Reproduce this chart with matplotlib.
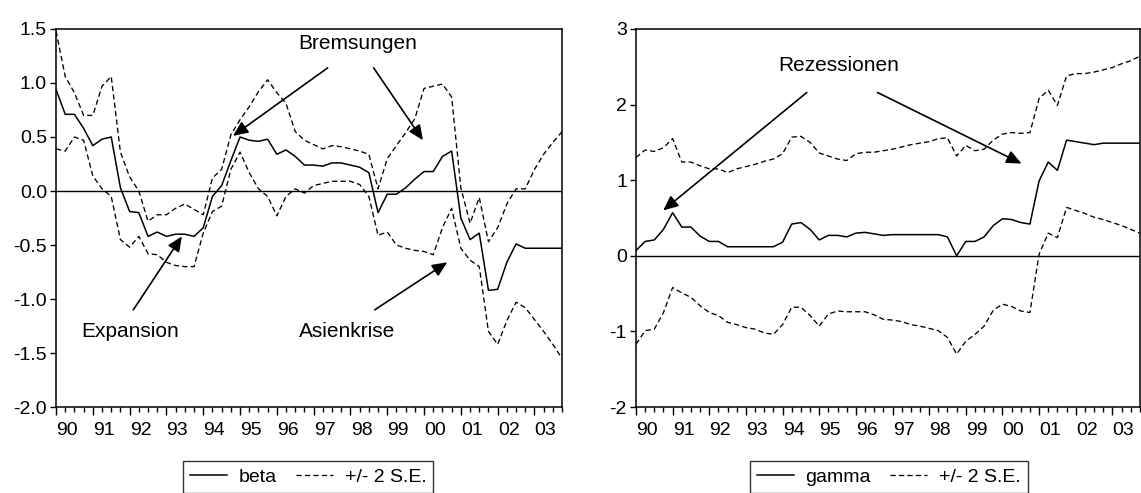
"""Rolling coefficients beta / gamma with +/- 2 S.E. bands (quarterly, 1990-2003).

    python plot.py
"""
from __future__ import annotations

import matplotlib
matplotlib.use("Agg")
import matplotlib.pyplot as plt
import matplotlib.transforms as mtransforms
from matplotlib.ticker import FixedLocator, FormatStrFormatter
import numpy as np

plt.rcParams["font.family"] = ["Liberation Sans", "DejaVu Sans"]
plt.rcParams["axes.unicode_minus"] = False

# ---------- data (quarterly, 1990Q1 .. 2003Q4) ----------------------------

YEARS = list(range(1990, 2004))
YEAR_LABELS = ["90", "91", "92", "93", "94", "95", "96", "97",
               "98", "99", "00", "01", "02", "03"]
N_OBS = 56

beta = [0.94, 0.71, 0.71, 0.58, 0.42, 0.48, 0.50, 0.03, -0.19, -0.20,
        -0.42, -0.38, -0.42, -0.40, -0.40, -0.42, -0.34, -0.05, 0.05, 0.28,
        0.50, 0.47, 0.46, 0.48, 0.34, 0.38, 0.32, 0.24,
        0.24, 0.23, 0.26, 0.26, 0.24, 0.22, 0.17, -0.20, -0.03, -0.03,
        0.03, 0.11, 0.18, 0.18, 0.32, 0.37,
        -0.25, -0.45, -0.39, -0.92, -0.91, -0.66, -0.49, -0.53, -0.53, -0.53,
        -0.53, -0.53]
beta_hi = [1.48, 1.06, 0.91, 0.70, 0.70, 0.97, 1.06, 0.36, 0.13, 0.00,
           -0.28, -0.22, -0.22, -0.16, -0.12, -0.17, -0.22, 0.12, 0.20, 0.52,
           0.66, 0.78, 0.92, 1.03, 0.91, 0.81, 0.55, 0.47,
           0.43, 0.39, 0.42, 0.41, 0.39, 0.37, 0.34, 0.02, 0.30, 0.42,
           0.54, 0.67, 0.95, 0.97, 0.99, 0.87,
           0.03, -0.30, -0.06, -0.47, -0.34, -0.12, 0.02, 0.02, 0.20, 0.34,
           0.45, 0.55]
beta_lo = [0.39, 0.37, 0.50, 0.47, 0.14, 0.02, -0.05, -0.45, -0.52, -0.42,
           -0.58, -0.59, -0.66, -0.69, -0.70, -0.70, -0.39, -0.19, -0.14, 0.20,
           0.36, 0.17, 0.02, -0.05, -0.23, -0.05, 0.02, -0.02,
           0.05, 0.07, 0.09, 0.09, 0.09, 0.06, -0.05, -0.41, -0.38, -0.50,
           -0.53, -0.55, -0.56, -0.59, -0.34, -0.16,
           -0.53, -0.64, -0.70, -1.30, -1.42, -1.20, -1.03, -1.08, -1.19, -1.30,
           -1.42, -1.55]

gamma = [0.07, 0.19, 0.21, 0.35, 0.57, 0.38, 0.38, 0.26, 0.19, 0.19,
         0.12, 0.12, 0.12, 0.12, 0.12, 0.12, 0.18, 0.42, 0.44, 0.35,
         0.21, 0.27, 0.27, 0.25, 0.30, 0.31, 0.29, 0.27,
         0.28, 0.28, 0.28, 0.28, 0.28, 0.28, 0.25, 0.00, 0.19, 0.19,
         0.25, 0.40, 0.49, 0.48, 0.44, 0.42,
         0.99, 1.24, 1.13, 1.53, 1.51, 1.49, 1.47, 1.49, 1.49, 1.49,
         1.49, 1.49]
gamma_hi = [1.30, 1.40, 1.38, 1.43, 1.55, 1.24, 1.24, 1.19, 1.15, 1.15,
            1.10, 1.15, 1.18, 1.21, 1.25, 1.28, 1.35, 1.57, 1.58, 1.50,
            1.36, 1.32, 1.28, 1.26, 1.35, 1.37, 1.37, 1.39,
            1.41, 1.44, 1.47, 1.49, 1.51, 1.55, 1.56, 1.32, 1.46, 1.39,
            1.41, 1.53, 1.61, 1.63, 1.62, 1.63,
            2.08, 2.19, 1.99, 2.38, 2.41, 2.41, 2.43, 2.46, 2.49, 2.54,
            2.58, 2.64]
gamma_lo = [-1.17, -0.99, -0.97, -0.75, -0.42, -0.49, -0.55, -0.66, -0.75, -0.79,
            -0.88, -0.91, -0.95, -0.97, -1.02, -1.04, -0.91, -0.68, -0.68, -0.79,
            -0.93, -0.77, -0.73, -0.74, -0.74, -0.74, -0.78, -0.84,
            -0.85, -0.87, -0.91, -0.93, -0.96, -0.99, -1.08, -1.30, -1.13, -1.04,
            -0.93, -0.72, -0.64, -0.67, -0.73, -0.75,
            0.02, 0.30, 0.24, 0.64, 0.60, 0.56, 0.51, 0.48, 0.44, 0.40,
            0.35, 0.30]

BETA_YTICKS = [-2.0, -1.5, -1.0, -0.5, 0.0, 0.5, 1.0, 1.5]
GAMMA_YTICKS = [-2, -1, 0, 1, 2, 3]

# (text, text position, [arrow tails], [arrow tips]) in data coordinates
BETA_NOTES = [
    ("Bremsungen", (1998.2, 1.37),
     [(1997.38, 1.14), (1998.63, 1.14)], [(1994.81, 0.51), (1999.97, 0.47)]),
    ("Expansion", (1992.02, -1.30), [(1992.10, -1.10)], [(1993.42, -0.42)]),
    ("Asienkrise", (1997.92, -1.30), [(1998.66, -1.10)], [(2000.63, -0.66)]),
]
GAMMA_NOTES = [
    ("Rezessionen", (1995.53, 2.52),
     [(1994.66, 2.16), (1996.59, 2.16)], [(1990.74, 0.60), (2000.52, 1.22)]),
]

DASH = (0, (4.0, 2.4))
TICK_FS = 14
NOTE_FS = 15


def draw_panel(fig, ax, name, mid, hi, lo, yticks, ylim, fmt, notes, legend_x):
    t = 1990 + np.arange(N_OBS) / 4.0
    ax.plot(t, mid, color="black", lw=1.1, label=name)
    ax.plot(t, hi, color="black", lw=0.95, ls=DASH, label="+/- 2 S.E.")
    ax.plot(t, lo, color="black", lw=0.95, ls=DASH)
    ax.axhline(0, color="black", lw=1.0)

    ax.set_xlim(1990, 2003.75)
    ax.set_ylim(*ylim)
    ax.set_yticks(yticks)
    ax.yaxis.set_major_formatter(FormatStrFormatter(fmt))
    ax.set_xticks(YEARS)
    ax.set_xticklabels(YEAR_LABELS)
    ax.xaxis.set_minor_locator(FixedLocator(1990 + np.arange(N_OBS) / 4.0))
    ax.tick_params(axis="x", which="major", length=6, width=1.0, pad=5,
                   labelsize=TICK_FS, direction="out")
    ax.tick_params(axis="x", which="minor", length=3.5, width=1.0)
    ax.tick_params(axis="y", length=4.5, width=1.0, labelsize=TICK_FS, pad=2)
    # year labels sit inside the year, not on its tick
    shift = mtransforms.ScaledTranslation(0.11, 0, fig.dpi_scale_trans)
    for lab in ax.get_xticklabels():
        lab.set_transform(lab.get_transform() + shift)
    for sp in ax.spines.values():
        sp.set_linewidth(1.1)

    for text, pos, tails, tips in notes:
        ax.text(pos[0], pos[1], text, ha="center", va="center", fontsize=NOTE_FS)
        for tail, tip in zip(tails, tips):
            ax.annotate("", xy=tip, xytext=tail,
                        arrowprops=dict(arrowstyle="-|>,head_length=0.9,head_width=0.4",
                                        color="black", lw=1.2,
                                        shrinkA=0, shrinkB=0))

    leg = fig.legend(handles=ax.get_lines()[:2], loc="upper center",
                     bbox_to_anchor=(legend_x, 0.064), ncol=2, fontsize=TICK_FS,
                     frameon=True, fancybox=False, edgecolor="black",
                     handlelength=1.9, handletextpad=0.6, columnspacing=1.0,
                     borderpad=0.35, borderaxespad=0.0)
    leg.get_frame().set_linewidth(1.0)


def main():
    for arr in (beta, beta_hi, beta_lo, gamma, gamma_hi, gamma_lo):
        assert len(arr) == N_OBS

    fig = plt.figure(figsize=(11.41, 4.93), dpi=100)
    ax1 = fig.add_axes([0.0491, 0.1744, 0.4435, 0.7668])
    ax2 = fig.add_axes([0.5574, 0.1744, 0.4416, 0.7668])

    draw_panel(fig, ax1, "beta", beta, beta_hi, beta_lo, BETA_YTICKS,
               (-2.0, 1.5), "%.1f", BETA_NOTES, 0.270)
    draw_panel(fig, ax2, "gamma", gamma, gamma_hi, gamma_lo, GAMMA_YTICKS,
               (-2, 3), "%d", GAMMA_NOTES, 0.779)

    fig.savefig("out.png", dpi=100)
    plt.close(fig)


if __name__ == "__main__":
    main()
